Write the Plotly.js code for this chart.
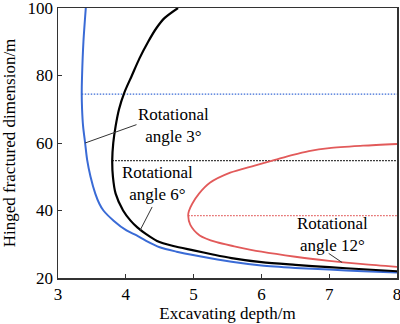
<!DOCTYPE html>
<html>
<head>
<meta charset="utf-8">
<script src="https://cdn.plot.ly/plotly-3.0.1.min.js"></script>
<style>html,body{margin:0;padding:0;background:#fff;}#chart{width:400px;height:324px;}</style>
</head>
<body>
<div id="chart"></div>
<script>
// Rotational angle 3° (blue)
const angle3X = [3.41, 3.375, 3.355, 3.35, 3.355, 3.37, 3.40, 3.43, 3.48, 3.55, 3.61, 3.67, 3.82, 4.01, 4.16, 4.30, 4.50, 4.75, 5.05, 5.56, 6.00, 6.50, 7.00, 7.50, 8.00];
const angle3Y = [100, 90, 80, 74.5, 70, 65, 60, 55, 50, 45, 42, 40, 37, 34.1, 32.6, 31.0, 29.1, 27.8, 26.6, 24.8, 23.7, 23.0, 22.5, 22.0, 21.6];
// Rotational angle 6° (black)
const angle6X = [4.77, 4.57, 4.45, 4.33, 4.20, 4.09, 3.98, 3.90, 3.85, 3.815, 3.80, 3.81, 3.85, 3.96, 4.07, 4.17, 4.30, 4.46, 4.70, 5.00, 5.30, 5.56, 6.00, 6.50, 7.00, 7.50, 8.00];
const angle6Y = [100, 97, 94, 90, 85, 80, 75, 70, 65, 60, 55, 50, 45, 40, 37, 35, 33, 31, 29.5, 28.2, 26.9, 25.9, 24.7, 23.9, 23.2, 22.6, 22.0];
// Rotational angle 12° (red)
const angle12X = [8.00, 7.50, 7.00, 6.70, 6.45, 6.20, 5.90, 5.54, 5.24, 5.08, 4.98, 4.93, 4.92, 4.95, 5.09, 5.34, 5.60, 6.00, 6.50, 7.00, 7.50, 8.00];
const angle12Y = [59.7, 59.2, 58.5, 57.6, 56.4, 55.0, 53.3, 51.2, 48.2, 45.0, 42.0, 39.8, 38.5, 35.8, 32.6, 30.6, 29.4, 27.8, 26.3, 25.1, 24.1, 23.3];
// dotted reference lines (extreme points)
const dot3X = [3.35, 8], dot3Y = [74.5, 74.5];
const dot6X = [3.80, 8], dot6Y = [54.8, 54.8];
const dot12X = [4.92, 8], dot12Y = [38.5, 38.5];
// ticks
const xTicks = [3, 4, 5, 6, 7, 8];
const yTicks = [20, 40, 60, 80, 100];
// labels
const labelTexts = ['Rotational<br>angle 3°', 'Rotational<br>angle 6°', 'Rotational<br>angle 12°'];
const labelX = [4.71, 4.47, 7.05];
const labelY = [65.3, 47.9, 32.9];
const leaderHeadX = [3.40, 4.21, 7.19], leaderHeadY = [60, 34.1, 24.6];
const leaderTailX = [4.18, 4.40, 6.97], leaderTailY = [65.6, 41.5, 27.6];

const FONT = 'Liberation Serif';
const BLUE = '#3a6bd6', BLACK = '#000000', RED = '#e25a5a';
const DOT = '1.5px,1.5px';

const traces = [
  {x: dot3X, y: dot3Y, mode: 'lines', line: {color: BLUE, width: 1.3, dash: DOT}},
  {x: dot6X, y: dot6Y, mode: 'lines', line: {color: BLACK, width: 1.3, dash: DOT}},
  {x: dot12X, y: dot12Y, mode: 'lines', line: {color: RED, width: 1.3, dash: DOT}},
  {x: angle3X, y: angle3Y, mode: 'lines', line: {color: BLUE, width: 2, shape: 'spline', smoothing: 0.8}},
  {x: angle6X, y: angle6Y, mode: 'lines', line: {color: BLACK, width: 2.2, shape: 'spline', smoothing: 0.8}},
  {x: angle12X, y: angle12Y, mode: 'lines', line: {color: RED, width: 1.8, shape: 'spline', smoothing: 0.8}}
];

const annotations = [];
labelTexts.forEach((t, i) => {
  annotations.push({x: labelX[i], y: labelY[i], xref: 'x', yref: 'y', text: t, showarrow: false,
    font: {family: FONT, size: 17, color: '#000'}, xanchor: 'center', yanchor: 'middle', align: 'center'});
  annotations.push({x: leaderHeadX[i], y: leaderHeadY[i], ax: leaderTailX[i], ay: leaderTailY[i], xref: 'x', yref: 'y',
    axref: 'x', ayref: 'y', text: '', showarrow: true, arrowhead: 0, arrowwidth: 1, arrowcolor: '#333',
    standoff: 0, startstandoff: 0});
});

const layout = {
  width: 400, height: 324,
  margin: {l: 58, r: 3, t: 8, b: 46, pad: 0},
  paper_bgcolor: '#fff', plot_bgcolor: '#fff',
  showlegend: false,
  font: {family: FONT, size: 17, color: '#000'},
  xaxis: {
    range: [3, 8], tickvals: xTicks, ticktext: xTicks.map(String),
    ticks: 'inside', ticklen: 4, tickwidth: 1, tickcolor: '#333',
    showline: true, linecolor: '#333', linewidth: 1.5, mirror: true,
    showgrid: false, zeroline: false, ticklabeloverflow: 'allow',
    tickfont: {family: FONT, size: 17, color: '#000'},
    title: {text: 'Excavating depth/m', font: {family: FONT, size: 17, color: '#000'}, standoff: 0}
  },
  yaxis: {
    range: [20, 100], tickvals: yTicks, ticktext: yTicks.map(String),
    ticks: 'inside', ticklen: 4, tickwidth: 1, tickcolor: '#333',
    showline: true, linecolor: '#333', linewidth: 1.5, mirror: true,
    showgrid: false, zeroline: false, ticklabeloverflow: 'allow',
    tickfont: {family: FONT, size: 17, color: '#000'},
    title: {text: 'Hinged fractured dimension/m', font: {family: FONT, size: 17, color: '#000'}, standoff: 10}
  },
  annotations: annotations
};

Plotly.newPlot('chart', traces, layout, {staticPlot: true, displayModeBar: false});
</script>
</body>
</html>
